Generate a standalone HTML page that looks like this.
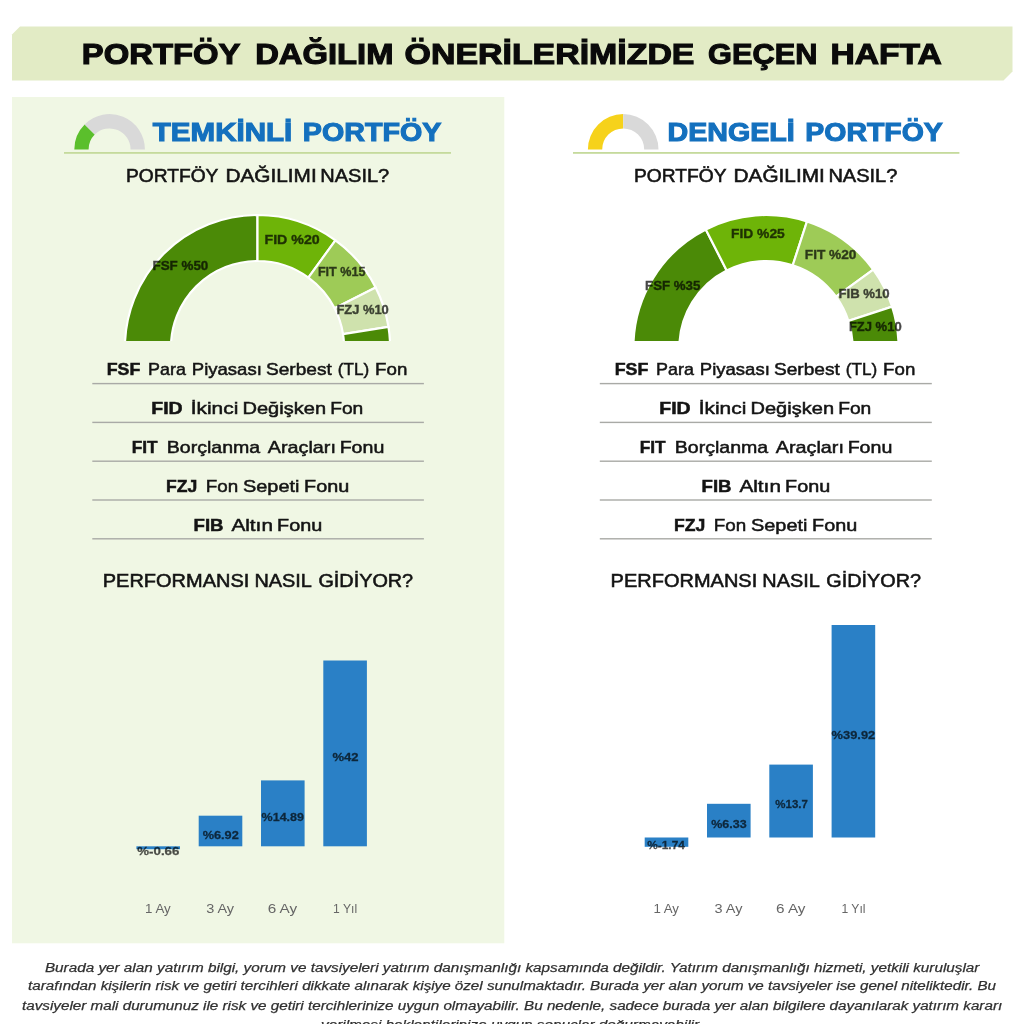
<!DOCTYPE html>
<html lang="tr"><head><meta charset="utf-8"><title>Portföy Dağılım Önerileri</title>
<style>html,body{margin:0;padding:0;background:#fff;width:1024px;height:1024px;overflow:hidden}svg{display:block;will-change:transform}</style>
</head><body><svg width="1024" height="1024" viewBox="0 0 1024 1024" font-family='"Liberation Sans", sans-serif'><rect width="1024" height="1024" fill="#ffffff"/><polygon points="20,26.5 1012.5,26.5 1012.5,71.5 1003.5,80.5 12,80.5 12,34.5" fill="#e2ebc5"/><text x="81.76" y="64.0" font-size="28.92" font-weight="700" fill="#0a0a0a" stroke="#0a0a0a" stroke-width="1.1" textLength="158.72" lengthAdjust="spacingAndGlyphs">PORTFÖY</text><text x="255.17" y="64.0" font-size="28.92" font-weight="700" fill="#0a0a0a" stroke="#0a0a0a" stroke-width="1.1" textLength="138.32" lengthAdjust="spacingAndGlyphs">DAĞILIM</text><text x="404.63" y="64.0" font-size="28.92" font-weight="700" fill="#0a0a0a" stroke="#0a0a0a" stroke-width="1.1" textLength="289.84" lengthAdjust="spacingAndGlyphs">ÖNERİLERİMİZDE</text><text x="708.14" y="64.0" font-size="28.92" font-weight="700" fill="#0a0a0a" stroke="#0a0a0a" stroke-width="1.1" textLength="109.31" lengthAdjust="spacingAndGlyphs">GEÇEN</text><text x="830.44" y="64.0" font-size="28.92" font-weight="700" fill="#0a0a0a" stroke="#0a0a0a" stroke-width="1.1" textLength="111.43" lengthAdjust="spacingAndGlyphs">HAFTA</text><rect x="12" y="97" width="492.3" height="846.3" fill="#f0f7e4"/><path d="M74.30,149.40 A35.3,35.3 0 0 1 84.64,124.44 L94.75,134.55 A21,21 0 0 0 88.60,149.40 Z" fill="#5bbf2c"/><path d="M84.64,124.44 A35.3,35.3 0 0 1 144.90,149.40 L130.60,149.40 A21,21 0 0 0 94.75,134.55 Z" fill="#d9d9d9"/><rect x="64" y="152" width="387" height="1.8" fill="#c5da9c"/><text x="152.8" y="141.0" font-size="26.31" font-weight="700" fill="#1470be" stroke="#1470be" stroke-width="1.1" textLength="139.52" lengthAdjust="spacingAndGlyphs">TEMKİNLİ</text><text x="302.81" y="141.0" font-size="26.31" font-weight="700" fill="#1470be" stroke="#1470be" stroke-width="1.1" textLength="138.51" lengthAdjust="spacingAndGlyphs">PORTFÖY</text><text x="125.95" y="181.6" font-size="18.31" font-weight="400" fill="#141414" stroke="#141414" stroke-width="0.55" textLength="92.46" lengthAdjust="spacingAndGlyphs">PORTFÖY</text><text x="225.46" y="181.6" font-size="18.31" font-weight="400" fill="#141414" stroke="#141414" stroke-width="0.55" textLength="91.24" lengthAdjust="spacingAndGlyphs">DAĞILIMI</text><text x="320.31" y="181.6" font-size="18.31" font-weight="400" fill="#141414" stroke="#141414" stroke-width="0.55" textLength="68.96" lengthAdjust="spacingAndGlyphs">NASIL?</text><path d="M587.90,149.40 A35.3,35.3 0 0 1 623.20,114.10 L623.20,128.40 A21,21 0 0 0 602.20,149.40 Z" fill="#f6d21b"/><path d="M623.20,114.10 A35.3,35.3 0 0 1 658.50,149.40 L644.20,149.40 A21,21 0 0 0 623.20,128.40 Z" fill="#d9d9d9"/><rect x="573" y="152" width="386.4" height="1.8" fill="#c5da9c"/><text x="667.51" y="140.9" font-size="26.16" font-weight="700" fill="#1470be" stroke="#1470be" stroke-width="1.1" textLength="127.28" lengthAdjust="spacingAndGlyphs">DENGELİ</text><text x="805.31" y="140.9" font-size="26.16" font-weight="700" fill="#1470be" stroke="#1470be" stroke-width="1.1" textLength="137.48" lengthAdjust="spacingAndGlyphs">PORTFÖY</text><text x="634.05" y="181.6" font-size="18.31" font-weight="400" fill="#141414" stroke="#141414" stroke-width="0.55" textLength="92.46" lengthAdjust="spacingAndGlyphs">PORTFÖY</text><text x="733.56" y="181.6" font-size="18.31" font-weight="400" fill="#141414" stroke="#141414" stroke-width="0.55" textLength="91.24" lengthAdjust="spacingAndGlyphs">DAĞILIMI</text><text x="828.41" y="181.6" font-size="18.31" font-weight="400" fill="#141414" stroke="#141414" stroke-width="0.55" textLength="68.96" lengthAdjust="spacingAndGlyphs">NASIL?</text><clipPath id="c1"><rect x="117.5" y="200" width="280" height="141"/></clipPath><g clip-path="url(#c1)"><path d="M124.90,347.60 A132.6,132.6 0 0 1 257.50,215.00 L257.50,261.00 A86.6,86.6 0 0 0 170.90,347.60 Z" fill="#4b8a07" stroke="#ffffff" stroke-width="2.2" stroke-linejoin="miter"/><path d="M257.50,215.00 A132.6,132.6 0 0 1 335.44,240.32 L308.40,277.54 A86.6,86.6 0 0 0 257.50,261.00 Z" fill="#6eb408" stroke="#ffffff" stroke-width="2.2" stroke-linejoin="miter"/><path d="M335.44,240.32 A132.6,132.6 0 0 1 375.65,287.40 L334.66,308.28 A86.6,86.6 0 0 0 308.40,277.54 Z" fill="#9ecb57" stroke="#ffffff" stroke-width="2.2" stroke-linejoin="miter"/><path d="M375.65,287.40 A132.6,132.6 0 0 1 388.47,326.86 L343.03,334.05 A86.6,86.6 0 0 0 334.66,308.28 Z" fill="#cfe2ad" stroke="#ffffff" stroke-width="2.2" stroke-linejoin="miter"/><path d="M388.47,326.86 A132.6,132.6 0 0 1 390.10,347.60 L344.10,347.60 A86.6,86.6 0 0 0 343.03,334.05 Z" fill="#4b8a07" stroke="#ffffff" stroke-width="2.2" stroke-linejoin="miter"/></g><clipPath id="c2"><rect x="626" y="200" width="280" height="141"/></clipPath><g clip-path="url(#c2)"><path d="M633.40,347.60 A132.6,132.6 0 0 1 705.80,229.45 L726.68,270.44 A86.6,86.6 0 0 0 679.40,347.60 Z" fill="#4b8a07" stroke="#ffffff" stroke-width="2.2" stroke-linejoin="miter"/><path d="M705.80,229.45 A132.6,132.6 0 0 1 806.98,221.49 L792.76,265.24 A86.6,86.6 0 0 0 726.68,270.44 Z" fill="#6eb408" stroke="#ffffff" stroke-width="2.2" stroke-linejoin="miter"/><path d="M806.98,221.49 A132.6,132.6 0 0 1 873.28,269.66 L836.06,296.70 A86.6,86.6 0 0 0 792.76,265.24 Z" fill="#9ecb57" stroke="#ffffff" stroke-width="2.2" stroke-linejoin="miter"/><path d="M873.28,269.66 A132.6,132.6 0 0 1 892.11,306.62 L848.36,320.84 A86.6,86.6 0 0 0 836.06,296.70 Z" fill="#cfe2ad" stroke="#ffffff" stroke-width="2.2" stroke-linejoin="miter"/><path d="M892.11,306.62 A132.6,132.6 0 0 1 898.60,347.60 L852.60,347.60 A86.6,86.6 0 0 0 848.36,320.84 Z" fill="#4b8a07" stroke="#ffffff" stroke-width="2.2" stroke-linejoin="miter"/></g><text x="152.5" y="270.2" font-size="13.23" font-weight="700" fill="#000000" opacity="0.72" stroke="#000000" stroke-width="0.4" textLength="55.81" lengthAdjust="spacingAndGlyphs">FSF %50</text><text x="264.5" y="243.6" font-size="13.23" font-weight="700" fill="#000000" opacity="0.72" stroke="#000000" stroke-width="0.4" textLength="55.17" lengthAdjust="spacingAndGlyphs">FID %20</text><text x="317.9" y="276.4" font-size="13.23" font-weight="700" fill="#000000" opacity="0.72" stroke="#000000" stroke-width="0.4" textLength="47.56" lengthAdjust="spacingAndGlyphs">FIT %15</text><text x="336.4" y="313.75" font-size="13.23" font-weight="700" fill="#000000" opacity="0.72" stroke="#000000" stroke-width="0.4" textLength="52.43" lengthAdjust="spacingAndGlyphs">FZJ %10</text><text x="645.1" y="290.2" font-size="13.23" font-weight="700" fill="#000000" opacity="0.72" stroke="#000000" stroke-width="0.4" textLength="55.21" lengthAdjust="spacingAndGlyphs">FSF %35</text><text x="731.0" y="238.4" font-size="13.23" font-weight="700" fill="#000000" opacity="0.72" stroke="#000000" stroke-width="0.4" textLength="53.76" lengthAdjust="spacingAndGlyphs">FID %25</text><text x="804.8" y="259.1" font-size="13.23" font-weight="700" fill="#000000" opacity="0.72" stroke="#000000" stroke-width="0.4" textLength="51.55" lengthAdjust="spacingAndGlyphs">FIT %20</text><text x="838.5" y="298.0" font-size="13.23" font-weight="700" fill="#000000" opacity="0.72" stroke="#000000" stroke-width="0.4" textLength="51.13" lengthAdjust="spacingAndGlyphs">FIB %10</text><text x="848.9" y="330.8" font-size="13.23" font-weight="700" fill="#000000" opacity="0.72" stroke="#000000" stroke-width="0.4" textLength="52.73" lengthAdjust="spacingAndGlyphs">FZJ %10</text><rect x="92.3" y="382.9" width="331.6" height="1.4" fill="#a9aaa6"/><rect x="92.3" y="421.7" width="331.6" height="1.4" fill="#a9aaa6"/><rect x="92.3" y="460.5" width="331.6" height="1.4" fill="#a9aaa6"/><rect x="92.3" y="499.3" width="331.6" height="1.4" fill="#a9aaa6"/><rect x="92.3" y="538.1" width="331.6" height="1.4" fill="#a9aaa6"/><rect x="599.8" y="382.9" width="332.0" height="1.4" fill="#a9aaa6"/><rect x="599.8" y="421.7" width="332.0" height="1.4" fill="#a9aaa6"/><rect x="599.8" y="460.5" width="332.0" height="1.4" fill="#a9aaa6"/><rect x="599.8" y="499.3" width="332.0" height="1.4" fill="#a9aaa6"/><rect x="599.8" y="538.1" width="332.0" height="1.4" fill="#a9aaa6"/><text x="106.73" y="375.3" font-size="16.57" font-weight="700" fill="#141414" stroke="#141414" stroke-width="0.5" textLength="33.58" lengthAdjust="spacingAndGlyphs">FSF</text><text x="148.05" y="375.3" font-size="17.01" font-weight="400" fill="#141414" stroke="#141414" stroke-width="0.5" textLength="37.87" lengthAdjust="spacingAndGlyphs">Para</text><text x="191.81" y="375.3" font-size="17.01" font-weight="400" fill="#141414" stroke="#141414" stroke-width="0.5" textLength="70.05" lengthAdjust="spacingAndGlyphs">Piyasası</text><text x="265.98" y="375.3" font-size="17.01" font-weight="400" fill="#141414" stroke="#141414" stroke-width="0.5" textLength="65.87" lengthAdjust="spacingAndGlyphs">Serbest</text><text x="337.89" y="375.3" font-size="17.01" font-weight="400" fill="#141414" stroke="#141414" stroke-width="0.5" textLength="31.38" lengthAdjust="spacingAndGlyphs">(TL)</text><text x="375.1" y="375.3" font-size="17.01" font-weight="400" fill="#141414" stroke="#141414" stroke-width="0.5" textLength="32.23" lengthAdjust="spacingAndGlyphs">Fon</text><text x="151.32" y="414.3" font-size="16.57" font-weight="700" fill="#141414" stroke="#141414" stroke-width="0.5" textLength="31.38" lengthAdjust="spacingAndGlyphs">FID</text><text x="190.67" y="414.3" font-size="17.01" font-weight="400" fill="#141414" stroke="#141414" stroke-width="0.5" textLength="47.63" lengthAdjust="spacingAndGlyphs">İkinci</text><text x="242.52" y="414.3" font-size="17.01" font-weight="400" fill="#141414" stroke="#141414" stroke-width="0.5" textLength="83.51" lengthAdjust="spacingAndGlyphs">Değişken</text><text x="330.17" y="414.3" font-size="17.01" font-weight="400" fill="#141414" stroke="#141414" stroke-width="0.5" textLength="33.17" lengthAdjust="spacingAndGlyphs">Fon</text><text x="131.76" y="453.3" font-size="16.57" font-weight="700" fill="#141414" stroke="#141414" stroke-width="0.5" textLength="25.88" lengthAdjust="spacingAndGlyphs">FIT</text><text x="166.75" y="453.3" font-size="17.01" font-weight="400" fill="#141414" stroke="#141414" stroke-width="0.5" textLength="93.51" lengthAdjust="spacingAndGlyphs">Borçlanma</text><text x="267.8" y="453.3" font-size="17.01" font-weight="400" fill="#141414" stroke="#141414" stroke-width="0.5" textLength="68.14" lengthAdjust="spacingAndGlyphs">Araçları</text><text x="339.65" y="453.3" font-size="17.01" font-weight="400" fill="#141414" stroke="#141414" stroke-width="0.5" textLength="44.72" lengthAdjust="spacingAndGlyphs">Fonu</text><text x="166.14" y="492.0" font-size="16.57" font-weight="700" fill="#141414" stroke="#141414" stroke-width="0.5" textLength="31.24" lengthAdjust="spacingAndGlyphs">FZJ</text><text x="205.69" y="492.0" font-size="17.01" font-weight="400" fill="#141414" stroke="#141414" stroke-width="0.5" textLength="32.44" lengthAdjust="spacingAndGlyphs">Fon</text><text x="243.03" y="492.0" font-size="17.01" font-weight="400" fill="#141414" stroke="#141414" stroke-width="0.5" textLength="56.41" lengthAdjust="spacingAndGlyphs">Sepeti</text><text x="304.04" y="492.0" font-size="17.01" font-weight="400" fill="#141414" stroke="#141414" stroke-width="0.5" textLength="45.14" lengthAdjust="spacingAndGlyphs">Fonu</text><text x="193.58" y="530.7" font-size="16.57" font-weight="700" fill="#141414" stroke="#141414" stroke-width="0.5" textLength="30.0" lengthAdjust="spacingAndGlyphs">FIB</text><text x="231.4" y="530.7" font-size="17.01" font-weight="400" fill="#141414" stroke="#141414" stroke-width="0.5" textLength="41.56" lengthAdjust="spacingAndGlyphs">Altın</text><text x="277.14" y="530.7" font-size="17.01" font-weight="400" fill="#141414" stroke="#141414" stroke-width="0.5" textLength="45.14" lengthAdjust="spacingAndGlyphs">Fonu</text><text x="614.73" y="375.3" font-size="16.57" font-weight="700" fill="#141414" stroke="#141414" stroke-width="0.5" textLength="33.58" lengthAdjust="spacingAndGlyphs">FSF</text><text x="656.05" y="375.3" font-size="17.01" font-weight="400" fill="#141414" stroke="#141414" stroke-width="0.5" textLength="37.87" lengthAdjust="spacingAndGlyphs">Para</text><text x="699.81" y="375.3" font-size="17.01" font-weight="400" fill="#141414" stroke="#141414" stroke-width="0.5" textLength="70.05" lengthAdjust="spacingAndGlyphs">Piyasası</text><text x="773.98" y="375.3" font-size="17.01" font-weight="400" fill="#141414" stroke="#141414" stroke-width="0.5" textLength="65.87" lengthAdjust="spacingAndGlyphs">Serbest</text><text x="845.89" y="375.3" font-size="17.01" font-weight="400" fill="#141414" stroke="#141414" stroke-width="0.5" textLength="31.38" lengthAdjust="spacingAndGlyphs">(TL)</text><text x="883.1" y="375.3" font-size="17.01" font-weight="400" fill="#141414" stroke="#141414" stroke-width="0.5" textLength="32.23" lengthAdjust="spacingAndGlyphs">Fon</text><text x="659.32" y="414.3" font-size="16.57" font-weight="700" fill="#141414" stroke="#141414" stroke-width="0.5" textLength="31.38" lengthAdjust="spacingAndGlyphs">FID</text><text x="698.67" y="414.3" font-size="17.01" font-weight="400" fill="#141414" stroke="#141414" stroke-width="0.5" textLength="47.63" lengthAdjust="spacingAndGlyphs">İkinci</text><text x="750.52" y="414.3" font-size="17.01" font-weight="400" fill="#141414" stroke="#141414" stroke-width="0.5" textLength="83.51" lengthAdjust="spacingAndGlyphs">Değişken</text><text x="838.17" y="414.3" font-size="17.01" font-weight="400" fill="#141414" stroke="#141414" stroke-width="0.5" textLength="33.17" lengthAdjust="spacingAndGlyphs">Fon</text><text x="639.76" y="453.3" font-size="16.57" font-weight="700" fill="#141414" stroke="#141414" stroke-width="0.5" textLength="25.88" lengthAdjust="spacingAndGlyphs">FIT</text><text x="674.75" y="453.3" font-size="17.01" font-weight="400" fill="#141414" stroke="#141414" stroke-width="0.5" textLength="93.51" lengthAdjust="spacingAndGlyphs">Borçlanma</text><text x="775.8" y="453.3" font-size="17.01" font-weight="400" fill="#141414" stroke="#141414" stroke-width="0.5" textLength="68.14" lengthAdjust="spacingAndGlyphs">Araçları</text><text x="847.65" y="453.3" font-size="17.01" font-weight="400" fill="#141414" stroke="#141414" stroke-width="0.5" textLength="44.72" lengthAdjust="spacingAndGlyphs">Fonu</text><text x="701.58" y="492.0" font-size="16.57" font-weight="700" fill="#141414" stroke="#141414" stroke-width="0.5" textLength="30.0" lengthAdjust="spacingAndGlyphs">FIB</text><text x="739.4" y="492.0" font-size="17.01" font-weight="400" fill="#141414" stroke="#141414" stroke-width="0.5" textLength="41.56" lengthAdjust="spacingAndGlyphs">Altın</text><text x="785.14" y="492.0" font-size="17.01" font-weight="400" fill="#141414" stroke="#141414" stroke-width="0.5" textLength="45.14" lengthAdjust="spacingAndGlyphs">Fonu</text><text x="674.14" y="530.7" font-size="16.57" font-weight="700" fill="#141414" stroke="#141414" stroke-width="0.5" textLength="31.24" lengthAdjust="spacingAndGlyphs">FZJ</text><text x="713.69" y="530.7" font-size="17.01" font-weight="400" fill="#141414" stroke="#141414" stroke-width="0.5" textLength="32.44" lengthAdjust="spacingAndGlyphs">Fon</text><text x="751.03" y="530.7" font-size="17.01" font-weight="400" fill="#141414" stroke="#141414" stroke-width="0.5" textLength="56.41" lengthAdjust="spacingAndGlyphs">Sepeti</text><text x="812.04" y="530.7" font-size="17.01" font-weight="400" fill="#141414" stroke="#141414" stroke-width="0.5" textLength="45.14" lengthAdjust="spacingAndGlyphs">Fonu</text><text x="102.73" y="586.7" font-size="18.75" font-weight="400" fill="#141414" stroke="#141414" stroke-width="0.55" textLength="146.58" lengthAdjust="spacingAndGlyphs">PERFORMANSI</text><text x="254.44" y="586.7" font-size="18.75" font-weight="400" fill="#141414" stroke="#141414" stroke-width="0.55" textLength="57.48" lengthAdjust="spacingAndGlyphs">NASIL</text><text x="318.44" y="586.7" font-size="18.75" font-weight="400" fill="#141414" stroke="#141414" stroke-width="0.55" textLength="94.7" lengthAdjust="spacingAndGlyphs">GİDİYOR?</text><text x="610.63" y="586.7" font-size="18.75" font-weight="400" fill="#141414" stroke="#141414" stroke-width="0.55" textLength="146.58" lengthAdjust="spacingAndGlyphs">PERFORMANSI</text><text x="762.34" y="586.7" font-size="18.75" font-weight="400" fill="#141414" stroke="#141414" stroke-width="0.55" textLength="57.48" lengthAdjust="spacingAndGlyphs">NASIL</text><text x="826.34" y="586.7" font-size="18.75" font-weight="400" fill="#141414" stroke="#141414" stroke-width="0.55" textLength="94.7" lengthAdjust="spacingAndGlyphs">GİDİYOR?</text><rect x="136.4" y="846.3" width="43.6" height="2.9" fill="#2a80c6"/><rect x="198.7" y="815.7" width="43.6" height="30.6" fill="#2a80c6"/><rect x="261.0" y="780.4" width="43.6" height="65.9" fill="#2a80c6"/><rect x="323.3" y="660.5" width="43.6" height="185.8" fill="#2a80c6"/><rect x="644.7" y="837.5" width="43.6" height="9.3" fill="#2a80c6"/><rect x="707.0" y="803.8" width="43.6" height="33.7" fill="#2a80c6"/><rect x="769.3" y="764.6" width="43.6" height="72.9" fill="#2a80c6"/><rect x="831.6" y="625.0" width="43.6" height="212.5" fill="#2a80c6"/><text x="137.3" y="855.0" font-size="11.77" font-weight="700" fill="#000000" opacity="0.7" stroke="#000000" stroke-width="0.3" textLength="42.02" lengthAdjust="spacingAndGlyphs">%-0.66</text><text x="647.2" y="849.4" font-size="11.77" font-weight="700" fill="#000000" opacity="0.7" stroke="#000000" stroke-width="0.3" textLength="37.67" lengthAdjust="spacingAndGlyphs">%-1.74</text><text x="145.08" y="913.4" font-size="13.66" font-weight="400" fill="#666666" textLength="25.59" lengthAdjust="spacingAndGlyphs">1 Ay</text><text x="653.38" y="913.4" font-size="13.66" font-weight="400" fill="#666666" textLength="25.59" lengthAdjust="spacingAndGlyphs">1 Ay</text><text x="202.7" y="838.5" font-size="11.77" font-weight="700" fill="#000000" opacity="0.7" stroke="#000000" stroke-width="0.3" textLength="36.11" lengthAdjust="spacingAndGlyphs">%6.92</text><text x="711.25" y="827.9" font-size="11.77" font-weight="700" fill="#000000" opacity="0.7" stroke="#000000" stroke-width="0.3" textLength="35.4" lengthAdjust="spacingAndGlyphs">%6.33</text><text x="206.19" y="913.4" font-size="13.66" font-weight="400" fill="#666666" textLength="27.91" lengthAdjust="spacingAndGlyphs">3 Ay</text><text x="714.49" y="913.4" font-size="13.66" font-weight="400" fill="#666666" textLength="27.91" lengthAdjust="spacingAndGlyphs">3 Ay</text><text x="261.6" y="820.65" font-size="11.77" font-weight="700" fill="#000000" opacity="0.7" stroke="#000000" stroke-width="0.3" textLength="42.4" lengthAdjust="spacingAndGlyphs">%14.89</text><text x="775.3" y="808.3" font-size="11.77" font-weight="700" fill="#000000" opacity="0.7" stroke="#000000" stroke-width="0.3" textLength="32.57" lengthAdjust="spacingAndGlyphs">%13.7</text><text x="267.68" y="913.4" font-size="13.66" font-weight="400" fill="#666666" textLength="29.49" lengthAdjust="spacingAndGlyphs">6 Ay</text><text x="775.98" y="913.4" font-size="13.66" font-weight="400" fill="#666666" textLength="29.49" lengthAdjust="spacingAndGlyphs">6 Ay</text><text x="332.5" y="760.6" font-size="11.77" font-weight="700" fill="#000000" opacity="0.7" stroke="#000000" stroke-width="0.3" textLength="26.12" lengthAdjust="spacingAndGlyphs">%42</text><text x="831.6" y="738.5" font-size="11.77" font-weight="700" fill="#000000" opacity="0.7" stroke="#000000" stroke-width="0.3" textLength="43.6" lengthAdjust="spacingAndGlyphs">%39.92</text><text x="333.11" y="913.4" font-size="13.66" font-weight="400" fill="#666666" textLength="24.06" lengthAdjust="spacingAndGlyphs">1 Yıl</text><text x="841.41" y="913.4" font-size="13.66" font-weight="400" fill="#666666" textLength="24.06" lengthAdjust="spacingAndGlyphs">1 Yıl</text><text x="44.9" y="971.6" font-size="13.52" font-weight="400" font-style="italic" fill="#303030" stroke="#303030" stroke-width="0.25" textLength="934.57" lengthAdjust="spacingAndGlyphs">Burada yer alan yatırım bilgi, yorum ve tavsiyeleri yatırım danışmanlığı kapsamında değildir. Yatırım danışmanlığı hizmeti, yetkili kuruluşlar</text><text x="28.1" y="990.4" font-size="13.52" font-weight="400" font-style="italic" fill="#303030" stroke="#303030" stroke-width="0.25" textLength="967.96" lengthAdjust="spacingAndGlyphs">tarafından kişilerin risk ve getiri tercihleri dikkate alınarak kişiye özel sunulmaktadır. Burada yer alan yorum ve tavsiyeler ise genel niteliktedir. Bu</text><text x="22.0" y="1009.5" font-size="13.52" font-weight="400" font-style="italic" fill="#303030" stroke="#303030" stroke-width="0.25" textLength="980.19" lengthAdjust="spacingAndGlyphs">tavsiyeler mali durumunuz ile risk ve getiri tercihlerinize uygun olmayabilir. Bu nedenle, sadece burada yer alan bilgilere dayanılarak yatırım kararı</text><text x="321.0" y="1028.6" font-size="13.52" font-weight="400" font-style="italic" fill="#303030" stroke="#303030" stroke-width="0.25" textLength="381.77" lengthAdjust="spacingAndGlyphs">verilmesi beklentilerinize uygun sonuçlar doğurmayabilir.</text></svg></body></html>
